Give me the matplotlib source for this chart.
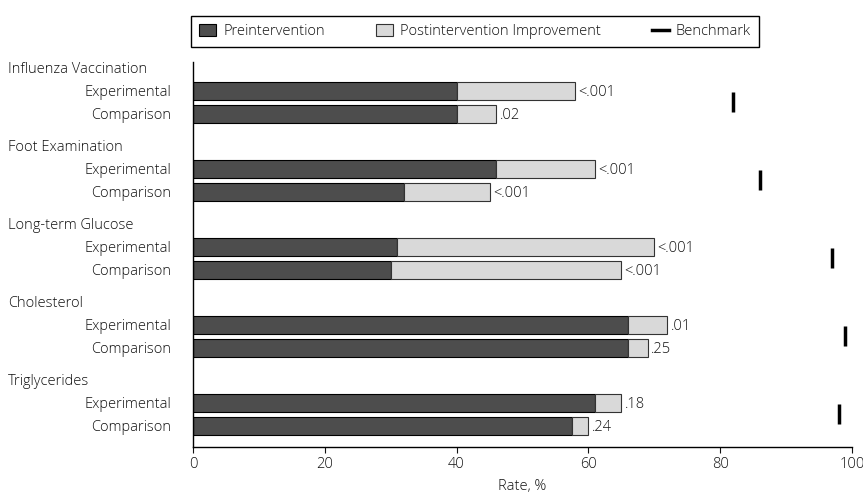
import matplotlib
matplotlib.use("Agg")
import matplotlib.pyplot as plt
import matplotlib.transforms as mtransforms
from matplotlib.patches import Patch
from matplotlib.lines import Line2D

plt.rcParams["font.family"] = ["Open Sans", "DejaVu Sans"]
plt.rcParams["font.weight"] = "light"
plt.rcParams["axes.labelweight"] = "light"
plt.rcParams["font.size"] = 10.5
plt.rcParams["text.color"] = "#111111"
plt.rcParams["xtick.color"] = "#111111"
plt.rcParams["ytick.color"] = "#111111"
plt.rcParams["axes.labelcolor"] = "#111111"

# data
measures = ["Influenza Vaccination", "Foot Examination", "Long-term Glucose",
            "Cholesterol", "Triglycerides"]
pre_exp = [40, 46, 31, 66, 61]
imp_exp = [18, 15, 39, 6, 4]
pre_comp = [40, 32, 30, 66, 57.5]
imp_comp = [6, 13, 35, 3, 2.5]
p_exp = ["<.001", "<.001", "<.001", ".01", ".18"]
p_comp = [".02", "<.001", "<.001", ".25", ".24"]
benchmark = [82, 86, 97, 99, 98]

dark = "#4d4d4d"
light = "#d9d9d9"

fig = plt.figure(figsize=(8.63, 4.96), dpi=100)
ax = fig.add_axes([193 / 863, 1 - 447 / 496, (852 - 193) / 863, (447 - 62) / 496])

step = 3.39
head_y = [i * step for i in range(len(measures))]
exp_y = [y + 1 for y in head_y]
comp_y = [y + 2 for y in head_y]
h = 0.8

ax.barh(exp_y, pre_exp, height=h, color=dark, edgecolor="black", lw=0.8)
ax.barh(exp_y, imp_exp, left=pre_exp, height=h, color=light, edgecolor="#333333", lw=0.8)
ax.barh(comp_y, pre_comp, height=h, color=dark, edgecolor="black", lw=0.8)
ax.barh(comp_y, imp_comp, left=pre_comp, height=h, color=light, edgecolor="#333333", lw=0.8)

for y, a, b, p in zip(exp_y, pre_exp, imp_exp, p_exp):
    ax.text(a + b + 0.5, y, p, va="center_baseline", ha="left")
for y, a, b, p in zip(comp_y, pre_comp, imp_comp, p_comp):
    ax.text(a + b + 0.5, y, p, va="center_baseline", ha="left")

# benchmark marks sit between the two bars of each group
ax.plot(benchmark, [y + 1.5 for y in head_y], ls="none", marker="|",
        markersize=14, markeredgewidth=2.5, color="black")

# group headings at the far left
tr = mtransforms.blended_transform_factory(fig.transFigure, ax.transData)
for y, name in zip(head_y, measures):
    ax.text(8 / 863, y, name, transform=tr, ha="left", va="center_baseline",
            clip_on=False)

ticks_y = []
tick_labels = []
for a, b in zip(exp_y, comp_y):
    ticks_y += [a, b]
    tick_labels += ["Experimental", "Comparison"]
ax.set_yticks(ticks_y)
ax.set_yticklabels(tick_labels, va="center_baseline")
ax.tick_params(axis="y", length=0, pad=16)

ax.set_xlim(0, 100)
ax.set_ylim((447 - 68) / 23, (62 - 68) / 23)
ax.set_xticks([0, 20, 40, 60, 80, 100])
ax.tick_params(axis="x", length=4, width=0.8, pad=3)
ax.set_xlabel("Rate, %", labelpad=5)

for s in ["top", "right"]:
    ax.spines[s].set_visible(False)
ax.spines["left"].set_linewidth(1)
ax.spines["bottom"].set_linewidth(1)

handles = [
    Patch(facecolor=dark, edgecolor="black", lw=0.8, label="Preintervention"),
    Patch(facecolor=light, edgecolor="#333333", lw=0.8, label="Postintervention Improvement"),
    Line2D([], [], color="black", lw=2.5, label="Benchmark"),
]
leg = fig.legend(handles=handles, loc="upper left", ncol=3,
                 bbox_to_anchor=(191 / 863, 1 - 16 / 496),
                 frameon=True, fancybox=False, edgecolor="black", framealpha=1,
                 borderpad=0.55, handlelength=1.15, handleheight=0.9,
                 handletextpad=0.5, columnspacing=3.5, borderaxespad=0)
leg.get_frame().set_linewidth(1)

fig.savefig("out.png", dpi=100)
